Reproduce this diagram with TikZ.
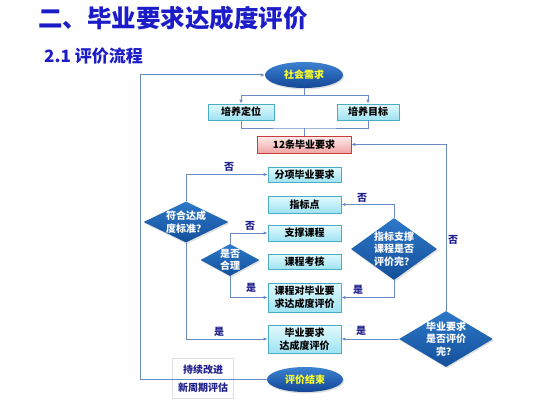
\documentclass[tikz,border=0pt]{standalone}
\usepackage{fontspec}
\setmainfont{Noto Sans CJK SC}
\usetikzlibrary{shapes.geometric,arrows.meta,shadows}
\definecolor{titleblue}{RGB}{28,28,200}
\definecolor{lblblue}{RGB}{30,30,140}
\definecolor{conncol}{RGB}{105,140,200}
\definecolor{boxtop}{RGB}{225,250,253}
\definecolor{boxbot}{RGB}{160,226,242}
\definecolor{boxedge}{RGB}{75,172,198}
\definecolor{pinktop}{RGB}{255,235,235}
\definecolor{pinkbot}{RGB}{240,165,165}
\definecolor{pinkedge}{RGB}{200,60,60}
\definecolor{ovtop}{RGB}{60,130,210}
\definecolor{ovbot}{RGB}{20,70,150}
\definecolor{diatop}{RGB}{45,120,200}
\definecolor{diabot}{RGB}{20,80,155}
\definecolor{yel}{RGB}{255,255,40}
\tikzset{
  fbox/.style={rectangle, draw=boxedge, line width=0.8pt, top color=boxtop, bottom color=boxbot,
    minimum width=73pt, inner sep=0pt, align=center, font=\bfseries\fontsize{10}{12.5}\selectfont,
    drop shadow={opacity=0.25, shadow xshift=1pt, shadow yshift=-1pt}},
  pbox/.style={fbox, draw=pinkedge, top color=pinktop, bottom color=pinkbot},
  oval/.style={ellipse, draw=none, top color=ovtop, bottom color=ovbot, inner sep=0pt,
    text=yel, font=\bfseries\fontsize{10}{12}\selectfont,
    drop shadow={opacity=0.25, shadow xshift=1pt, shadow yshift=-1.5pt}},
  dia/.style={diamond, draw=none, top color=diatop, bottom color=diabot, inner sep=0pt,
    drop shadow={opacity=0.25, shadow xshift=1pt, shadow yshift=-1.5pt}},
  diatext/.style={text=white, align=center, inner sep=0pt, font=\bfseries\fontsize{10}{12.5}\selectfont},
  lbl/.style={text=lblblue, inner sep=0pt, font=\bfseries\fontsize{10}{12}\selectfont},
  conn/.style={draw=conncol, line width=1pt},
  arr/.style={conn, -{Latex[length=4pt,width=3.5pt]}},
}
\begin{document}
\begin{tikzpicture}[x=1pt,y=-1pt]
\useasboundingbox (0,0) rectangle (553,401);
% titles
\node[anchor=west, text=titleblue, inner sep=0pt, font=\bfseries\fontsize{24.5}{26}\selectfont] (title) at (38,18) {二、毕业要求达成度评价};
\node[anchor=west, text=titleblue, inner sep=0pt, font=\bfseries\fontsize{17}{19}\selectfont] (sub) at (44,56) {2.1 评价流程};
% cont. improvement box
\node[rectangle, draw={rgb,255:red,222;green,222;blue,222}, fill=white, minimum width=61pt, minimum height=40pt, inner sep=0pt] (cbox) at (202.5,378) {};
% nodes
\node[oval, minimum width=78pt, minimum height=26pt] (sh) at (304,75) {社会需求};
\node[fbox, minimum width=66pt, minimum height=16pt] (pydw) at (241,112) {培养定位};
\node[fbox, minimum width=62pt, minimum height=16pt] (pymb) at (368,112) {培养目标};
\node[pbox, minimum width=94pt, minimum height=17pt] (req) at (304,144.5) {12条毕业要求};
\node[fbox, minimum height=15pt] (fx) at (304.5,174.5) {分项毕业要求};
\node[fbox, minimum height=17pt] (zbd) at (304.5,204.5) {指标点};
\node[fbox, minimum height=16pt] (zc) at (304.5,233) {支撑课程};
\node[fbox, minimum height=15pt] (kh) at (304.5,261.5) {课程考核};
\node[fbox, minimum height=29pt] (kc) at (304.5,297.5) {课程对毕业要\\求达成度评价};
\node[fbox, minimum height=28pt] (pj) at (304.5,339) {毕业要求\\达成度评价};
\node[oval, minimum width=76pt, minimum height=25pt] (end) at (305,379.5) {评价结束};
% diamonds
\node[dia, minimum width=85pt, minimum height=41pt] (d1) at (186,222) {};
\node[diatext] (d1t) at (186,222) {符合达成\\度标准？};
\node[dia, minimum width=59pt, minimum height=32pt] (d2) at (230,260) {};
\node[diatext] (d2t) at (230,260) {是否\\合理};
\node[dia, minimum width=86pt, minimum height=62pt] (d3) at (394,249) {};
\node[diatext] (d3t) at (394,249) {指标支撑\\课程是否\\评价完？};
\node[dia, minimum width=94pt, minimum height=56pt] (d4) at (446,339) {};
\node[diatext] (d4t) at (446,339) {毕业要求\\是否评价\\完？};
% coordinates
\coordinate (c1) at (304,96);
\coordinate (c2) at (304,128);
\coordinate (c4) at (140,75);
% connectors
\draw[conn] (sh.south) -- (c1);
\draw[arr] (c1) -| (pydw.north);
\draw[arr] (c1) -| (pymb.north);
\draw[conn] (pydw.south) |- (c2) -| (pymb.south);
\draw[conn] (c2) -- (req.north);
\draw[arr] (d4.north) |- (req.east);
\draw[arr] (d4.west) -- (pj.east);
\draw[arr] (d1.north) |- (fx.west);
\draw[arr] (d1.south) |- (pj.west);
\draw[arr] (d2.north) |- (zc.west);
\draw[arr] (d2.south) |- (kc.west);
\draw[arr] (d3.north) |- (zbd.east);
\draw[arr] (d3.south) |- (kc.east);
\draw[arr] (end.west) -| (c4) -- (sh.west);
% labels
\node[lbl] (l1) at (229,167) {否};
\node[lbl] (l2) at (219,332) {是};
\node[lbl] (l3) at (250,226) {否};
\node[lbl] (l4) at (251,288) {是};
\node[lbl] (l5) at (362,198) {否};
\node[lbl] (l6) at (358,290) {是};
\node[lbl] (l7) at (361,331) {是};
\node[lbl] (l8) at (453,240) {否};
\node[lbl] (ct1) at (203,370) {持续改进};
\node[lbl] (ct2) at (203,387.5) {新周期评估};
\end{tikzpicture}
\end{document}
